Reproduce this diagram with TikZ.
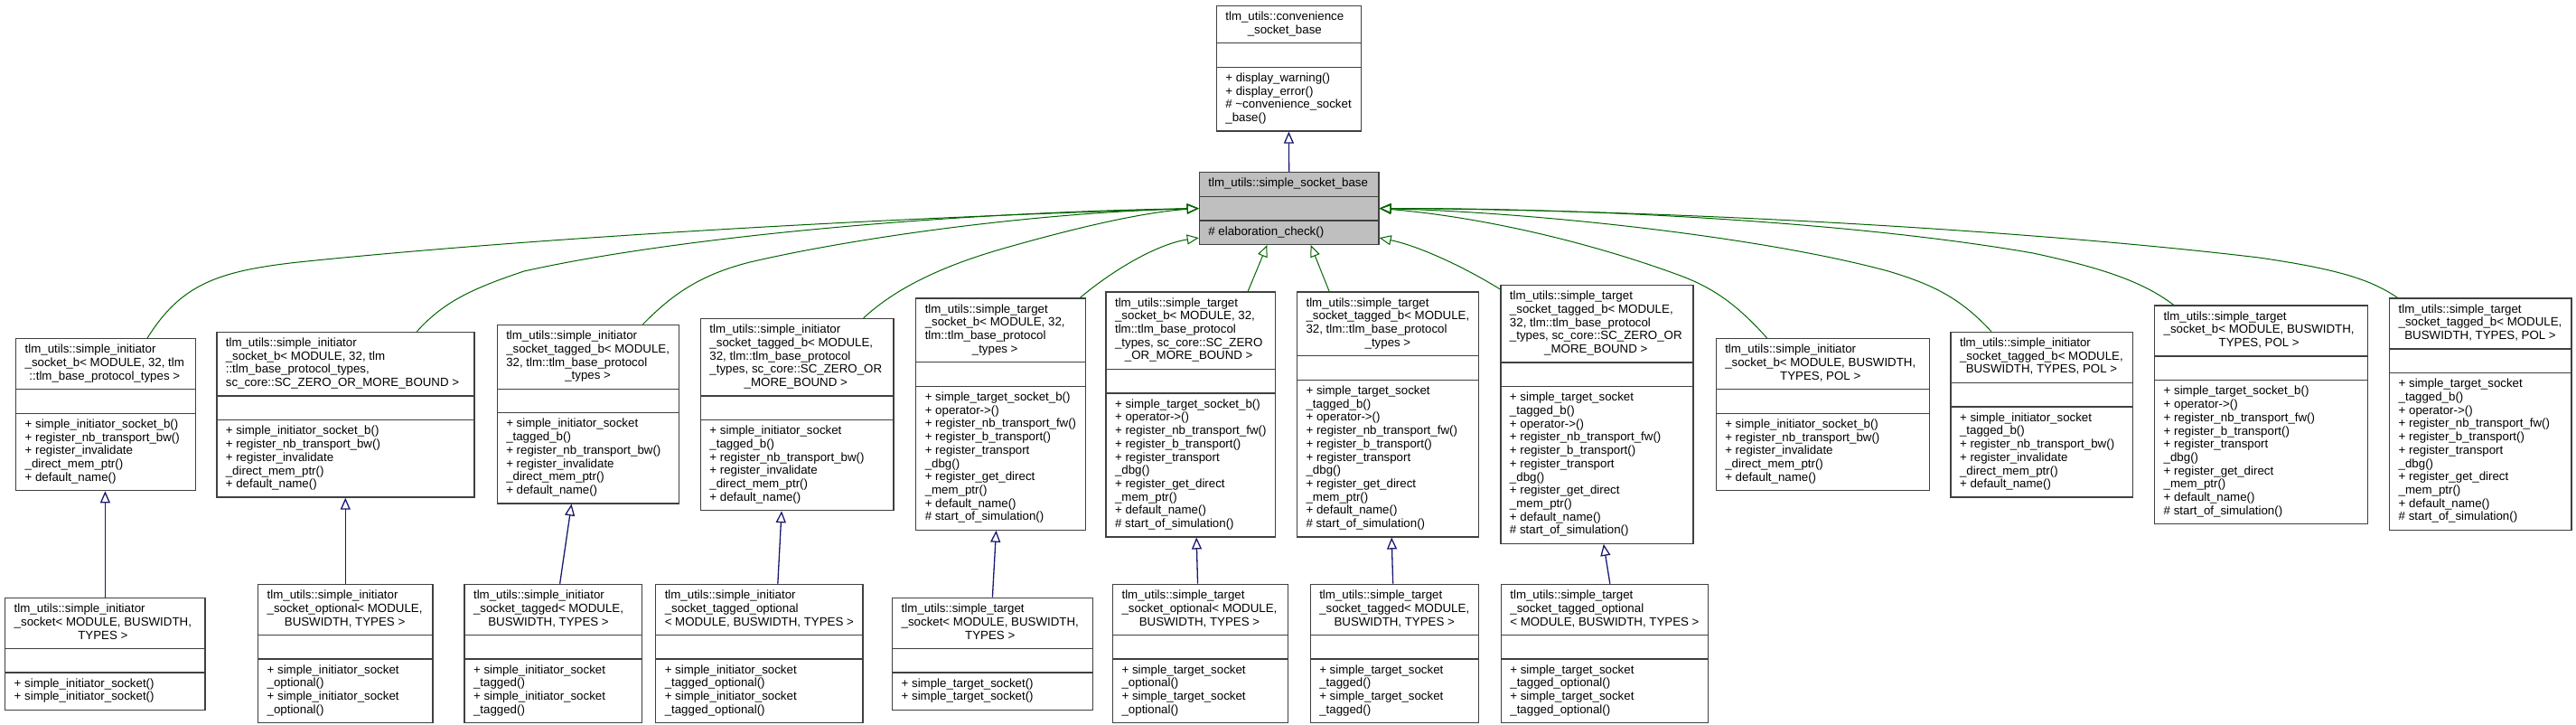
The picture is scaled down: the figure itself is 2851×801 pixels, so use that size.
\documentclass[tikz,border=0pt]{standalone}
\usepackage{fontspec}
\setmainfont{Liberation Sans}
\usetikzlibrary{
    shapes.multipart,
    arrows.meta,
    calc
}
\definecolor{edgeblue}{HTML}{191970}
\definecolor{edgegreen}{HTML}{006400}
\definecolor{boxline}{HTML}{404040}
\definecolor{basefill}{HTML}{BFBFBF}
\newcommand{\clsfont}{\fontsize{13.3}{14.7}\selectfont}
\newcommand{\ctr}[1]{\null\hfill#1\hfill\null}
\newcommand{\clsbox}[2]{\strut#1\strut\nodepart{two}\strut\nodepart{three}\strut#2\strut}
\newcommand{\initbm}{+ simple\_initiator\_socket\_b()\\+ register\_nb\_transport\_bw()\\+ register\_invalidate\\\_direct\_mem\_ptr()\\+ default\_name()}
\newcommand{\inittbm}{+ simple\_initiator\_socket\\\_tagged\_b()\\+ register\_nb\_transport\_bw()\\+ register\_invalidate\\\_direct\_mem\_ptr()\\+ default\_name()}
\newcommand{\targbm}{+ simple\_target\_socket\_b()\\+ operator->()\\+ register\_nb\_transport\_fw()\\+ register\_b\_transport()\\+ register\_transport\\\_dbg()\\+ register\_get\_direct\\\_mem\_ptr()\\+ default\_name()\\\# start\_of\_simulation()}
\newcommand{\targtbm}{+ simple\_target\_socket\\\_tagged\_b()\\+ operator->()\\+ register\_nb\_transport\_fw()\\+ register\_b\_transport()\\+ register\_transport\\\_dbg()\\+ register\_get\_direct\\\_mem\_ptr()\\+ default\_name()\\\# start\_of\_simulation()}

\begin{document}
\begin{tikzpicture}[x=1pt, y=-1pt,
    cls/.style={rectangle split, rectangle split parts=3,
        rectangle split part align={left}, draw=boxline, line width=1.3pt,
        fill=white, inner xsep=10pt, inner ysep=5.3pt, anchor=north west,
        align=left, font=\clsfont},
    inh/.style={-{Triangle[open, length=13pt, width=11pt]}, line width=1.3pt, draw=edgeblue},
    tpl/.style={-{Triangle[open, length=13pt, width=11pt]}, line width=1pt, draw=edgegreen}]
\useasboundingbox (0,0) rectangle (2851,801);

\node[cls, minimum width=160] (conv) at (1345.7,5.7) {\clsbox{tlm\_utils::convenience\\\ctr{\_socket\_base}}{+ display\_warning()\\+ display\_error()\\\# \textasciitilde convenience\_socket\\\_base()}};
\node[cls, fill=basefill, minimum width=198.6] (base) at (1326.7,190) {\clsbox{tlm\_utils::simple\_socket\_base}{\# elaboration\_check()}};

\node[cls, minimum width=198.8] (a1) at (17,374) {\clsbox{tlm\_utils::simple\_initiator\\\_socket\_b< MODULE, 32, tlm\\\ctr{::tlm\_base\_protocol\_types >}}{\initbm}};
\node[cls, minimum width=285.1] (a2) at (239.2,366.7) {\clsbox{tlm\_utils::simple\_initiator\\\_socket\_b< MODULE, 32, tlm\\::tlm\_base\_protocol\_types,\\\ctr{sc\_core::SC\_ZERO\_OR\_MORE\_BOUND >}}{\initbm}};
\node[cls, minimum width=200.9] (a3) at (549.6,358.8) {\clsbox{tlm\_utils::simple\_initiator\\\_socket\_tagged\_b< MODULE,\\32, tlm::tlm\_base\_protocol\\\ctr{\_types >}}{\inittbm}};
\node[cls, minimum width=213.5] (a4) at (774.8,351.8) {\clsbox{tlm\_utils::simple\_initiator\\\_socket\_tagged\_b< MODULE,\\32, tlm::tlm\_base\_protocol\\\_types, sc\_core::SC\_ZERO\_OR\\\ctr{\_MORE\_BOUND >}}{\inittbm}};
\node[cls, minimum width=185.5] (a5) at (1013.1,329.3) {\clsbox{tlm\_utils::simple\_target\\\_socket\_b< MODULE, 32,\\tlm::tlm\_base\_protocol\\\ctr{\_types >}}{\targbm}};
\node[cls, minimum width=186.4] (a6) at (1223.4,322.3) {\clsbox{tlm\_utils::simple\_target\\\_socket\_b< MODULE, 32,\\tlm::tlm\_base\_protocol\\\_types, sc\_core::SC\_ZERO\\\ctr{\_OR\_MORE\_BOUND >}}{\targbm}};
\node[cls, minimum width=201.1] (a7) at (1434.9,322.3) {\clsbox{tlm\_utils::simple\_target\\\_socket\_tagged\_b< MODULE,\\32, tlm::tlm\_base\_protocol\\\ctr{\_types >}}{\targtbm}};
\node[cls, minimum width=213.1] (a8) at (1660.3,315) {\clsbox{tlm\_utils::simple\_target\\\_socket\_tagged\_b< MODULE,\\32, tlm::tlm\_base\_protocol\\\_types, sc\_core::SC\_ZERO\_OR\\\ctr{\_MORE\_BOUND >}}{\targtbm}};
\node[cls, minimum width=235.9] (a9) at (1898.6,374) {\clsbox{tlm\_utils::simple\_initiator\\\_socket\_b< MODULE, BUSWIDTH,\\\ctr{TYPES, POL >}}{\initbm}};
\node[cls, minimum width=201.6] (a10) at (2158.4,366.7) {\clsbox{tlm\_utils::simple\_initiator\\\_socket\_tagged\_b< MODULE,\\\ctr{BUSWIDTH, TYPES, POL >}}{\inittbm}};
\node[cls, minimum width=236.1] (a11) at (2384,337.4) {\clsbox{tlm\_utils::simple\_target\\\_socket\_b< MODULE, BUSWIDTH,\\\ctr{TYPES, POL >}}{\targbm}};
\node[cls, minimum width=201.2] (a12) at (2644,329.4) {\clsbox{tlm\_utils::simple\_target\\\_socket\_tagged\_b< MODULE,\\\ctr{BUSWIDTH, TYPES, POL >}}{\targtbm}};

\node[cls, minimum width=221.3] (b1) at (5.1,660.7) {\clsbox{tlm\_utils::simple\_initiator\\\_socket< MODULE, BUSWIDTH,\\\ctr{TYPES >}}{+ simple\_initiator\_socket()\\+ simple\_initiator\_socket()}};
\node[cls, minimum width=193.3] (b2) at (285,645.7) {\clsbox{tlm\_utils::simple\_initiator\\\_socket\_optional< MODULE,\\\ctr{BUSWIDTH, TYPES >}}{+ simple\_initiator\_socket\\\_optional()\\+ simple\_initiator\_socket\\\_optional()}};
\node[cls, minimum width=196.4] (b3) at (513.4,645.7) {\clsbox{tlm\_utils::simple\_initiator\\\_socket\_tagged< MODULE,\\\ctr{BUSWIDTH, TYPES >}}{+ simple\_initiator\_socket\\\_tagged()\\+ simple\_initiator\_socket\\\_tagged()}};
\node[cls, minimum width=217.5] (b4) at (725.1,645.7) {\clsbox{tlm\_utils::simple\_initiator\\\_socket\_tagged\_optional\\\ctr{< MODULE, BUSWIDTH, TYPES >}}{+ simple\_initiator\_socket\\\_tagged\_optional()\\+ simple\_initiator\_socket\\\_tagged\_optional()}};
\node[cls, minimum width=221.5] (b5) at (987,660.7) {\clsbox{tlm\_utils::simple\_target\\\_socket< MODULE, BUSWIDTH,\\\ctr{TYPES >}}{+ simple\_target\_socket()\\+ simple\_target\_socket()}};
\node[cls, minimum width=193.8] (b6) at (1230.9,645.7) {\clsbox{tlm\_utils::simple\_target\\\_socket\_optional< MODULE,\\\ctr{BUSWIDTH, TYPES >}}{+ simple\_target\_socket\\\_optional()\\+ simple\_target\_socket\\\_optional()}};
\node[cls, minimum width=186.2] (b7) at (1449.6,645.7) {\clsbox{tlm\_utils::simple\_target\\\_socket\_tagged< MODULE,\\\ctr{BUSWIDTH, TYPES >}}{+ simple\_target\_socket\\\_tagged()\\+ simple\_target\_socket\\\_tagged()}};
\node[cls, minimum width=218.1] (b8) at (1660.7,645.7) {\clsbox{tlm\_utils::simple\_target\\\_socket\_tagged\_optional\\\ctr{< MODULE, BUSWIDTH, TYPES >}}{+ simple\_target\_socket\\\_tagged\_optional()\\+ simple\_target\_socket\\\_tagged\_optional()}};

\draw[inh] (base.north) -- (conv.south);
\draw[inh] (b1.north) -- (b1.north |- a1.south);
\draw[inh] (b2.north) -- (b2.north |- a2.south);
\draw[inh] ([xshift=7.4pt]b3.north) -- ([xshift=-18.2pt]a3.south);
\draw[inh] ([xshift=20.5pt]b4.north) -- ([xshift=-17.2pt]a4.south);
\draw[inh] (b5.north) -- ([xshift=-5pt]a5.south);
\draw[inh] ([xshift=-2.9pt]b6.north) -- ([xshift=6.4pt]a6.south);
\draw[inh] ([xshift=-1.7pt]b7.north) -- ([xshift=4.1pt]a7.south);
\draw[inh] ([xshift=5.9pt]b8.north) -- ([xshift=7.3pt]a8.south);

\draw[tpl] ([xshift=46pt]a1.north) .. controls (200,315) and (240,300) .. (330,290) .. controls (600,262) and (1000,240) .. (base.west);
\draw[tpl] ([xshift=79pt]a2.north) .. controls (490,335) and (520,320) .. (580,300) .. controls (750,262) and (1050,235) .. (base.west);
\draw[tpl] ([xshift=60.7pt]a3.north) .. controls (740,330) and (770,305) .. (830,290) .. controls (950,262) and (1150,235) .. (base.west);
\draw[tpl] ([xshift=73.5pt]a4.north) .. controls (990,320) and (1040,295) .. (1110,275) .. controls (1180,255) and (1260,235) .. (base.west);
\draw[tpl] ([xshift=88pt]a5.north) .. controls (1230,300) and (1280,270) .. ([yshift=8pt]base.south west);
\draw[tpl] ([xshift=63.4pt]a6.north) -- ([xshift=-24.3pt]base.south);
\draw[tpl] ([xshift=-65pt]a7.north) -- ([xshift=24pt]base.south);
\draw[tpl] ([yshift=-5pt]a8.north west) .. controls (1620,295) and (1570,272) .. ([yshift=8pt]base.south east);
\draw[tpl] ([xshift=-61.5pt]a9.north) .. controls (1925,340) and (1900,320) .. (1860,305) .. controls (1760,268) and (1640,240) .. (base.east);
\draw[tpl] ([xshift=-56pt]a10.north) .. controls (2170,330) and (2140,315) .. (2090,300) .. controls (1950,262) and (1700,235) .. (base.east);
\draw[tpl] ([xshift=-97pt]a11.north) .. controls (2370,310) and (2320,295) .. (2250,280) .. controls (2050,245) and (1750,230) .. (base.east);
\draw[tpl] ([xshift=-91.7pt]a12.north) .. controls (2625,310) and (2590,298) .. (2500,285) .. controls (2250,255) and (1850,232) .. (base.east);
\end{tikzpicture}
\end{document}
